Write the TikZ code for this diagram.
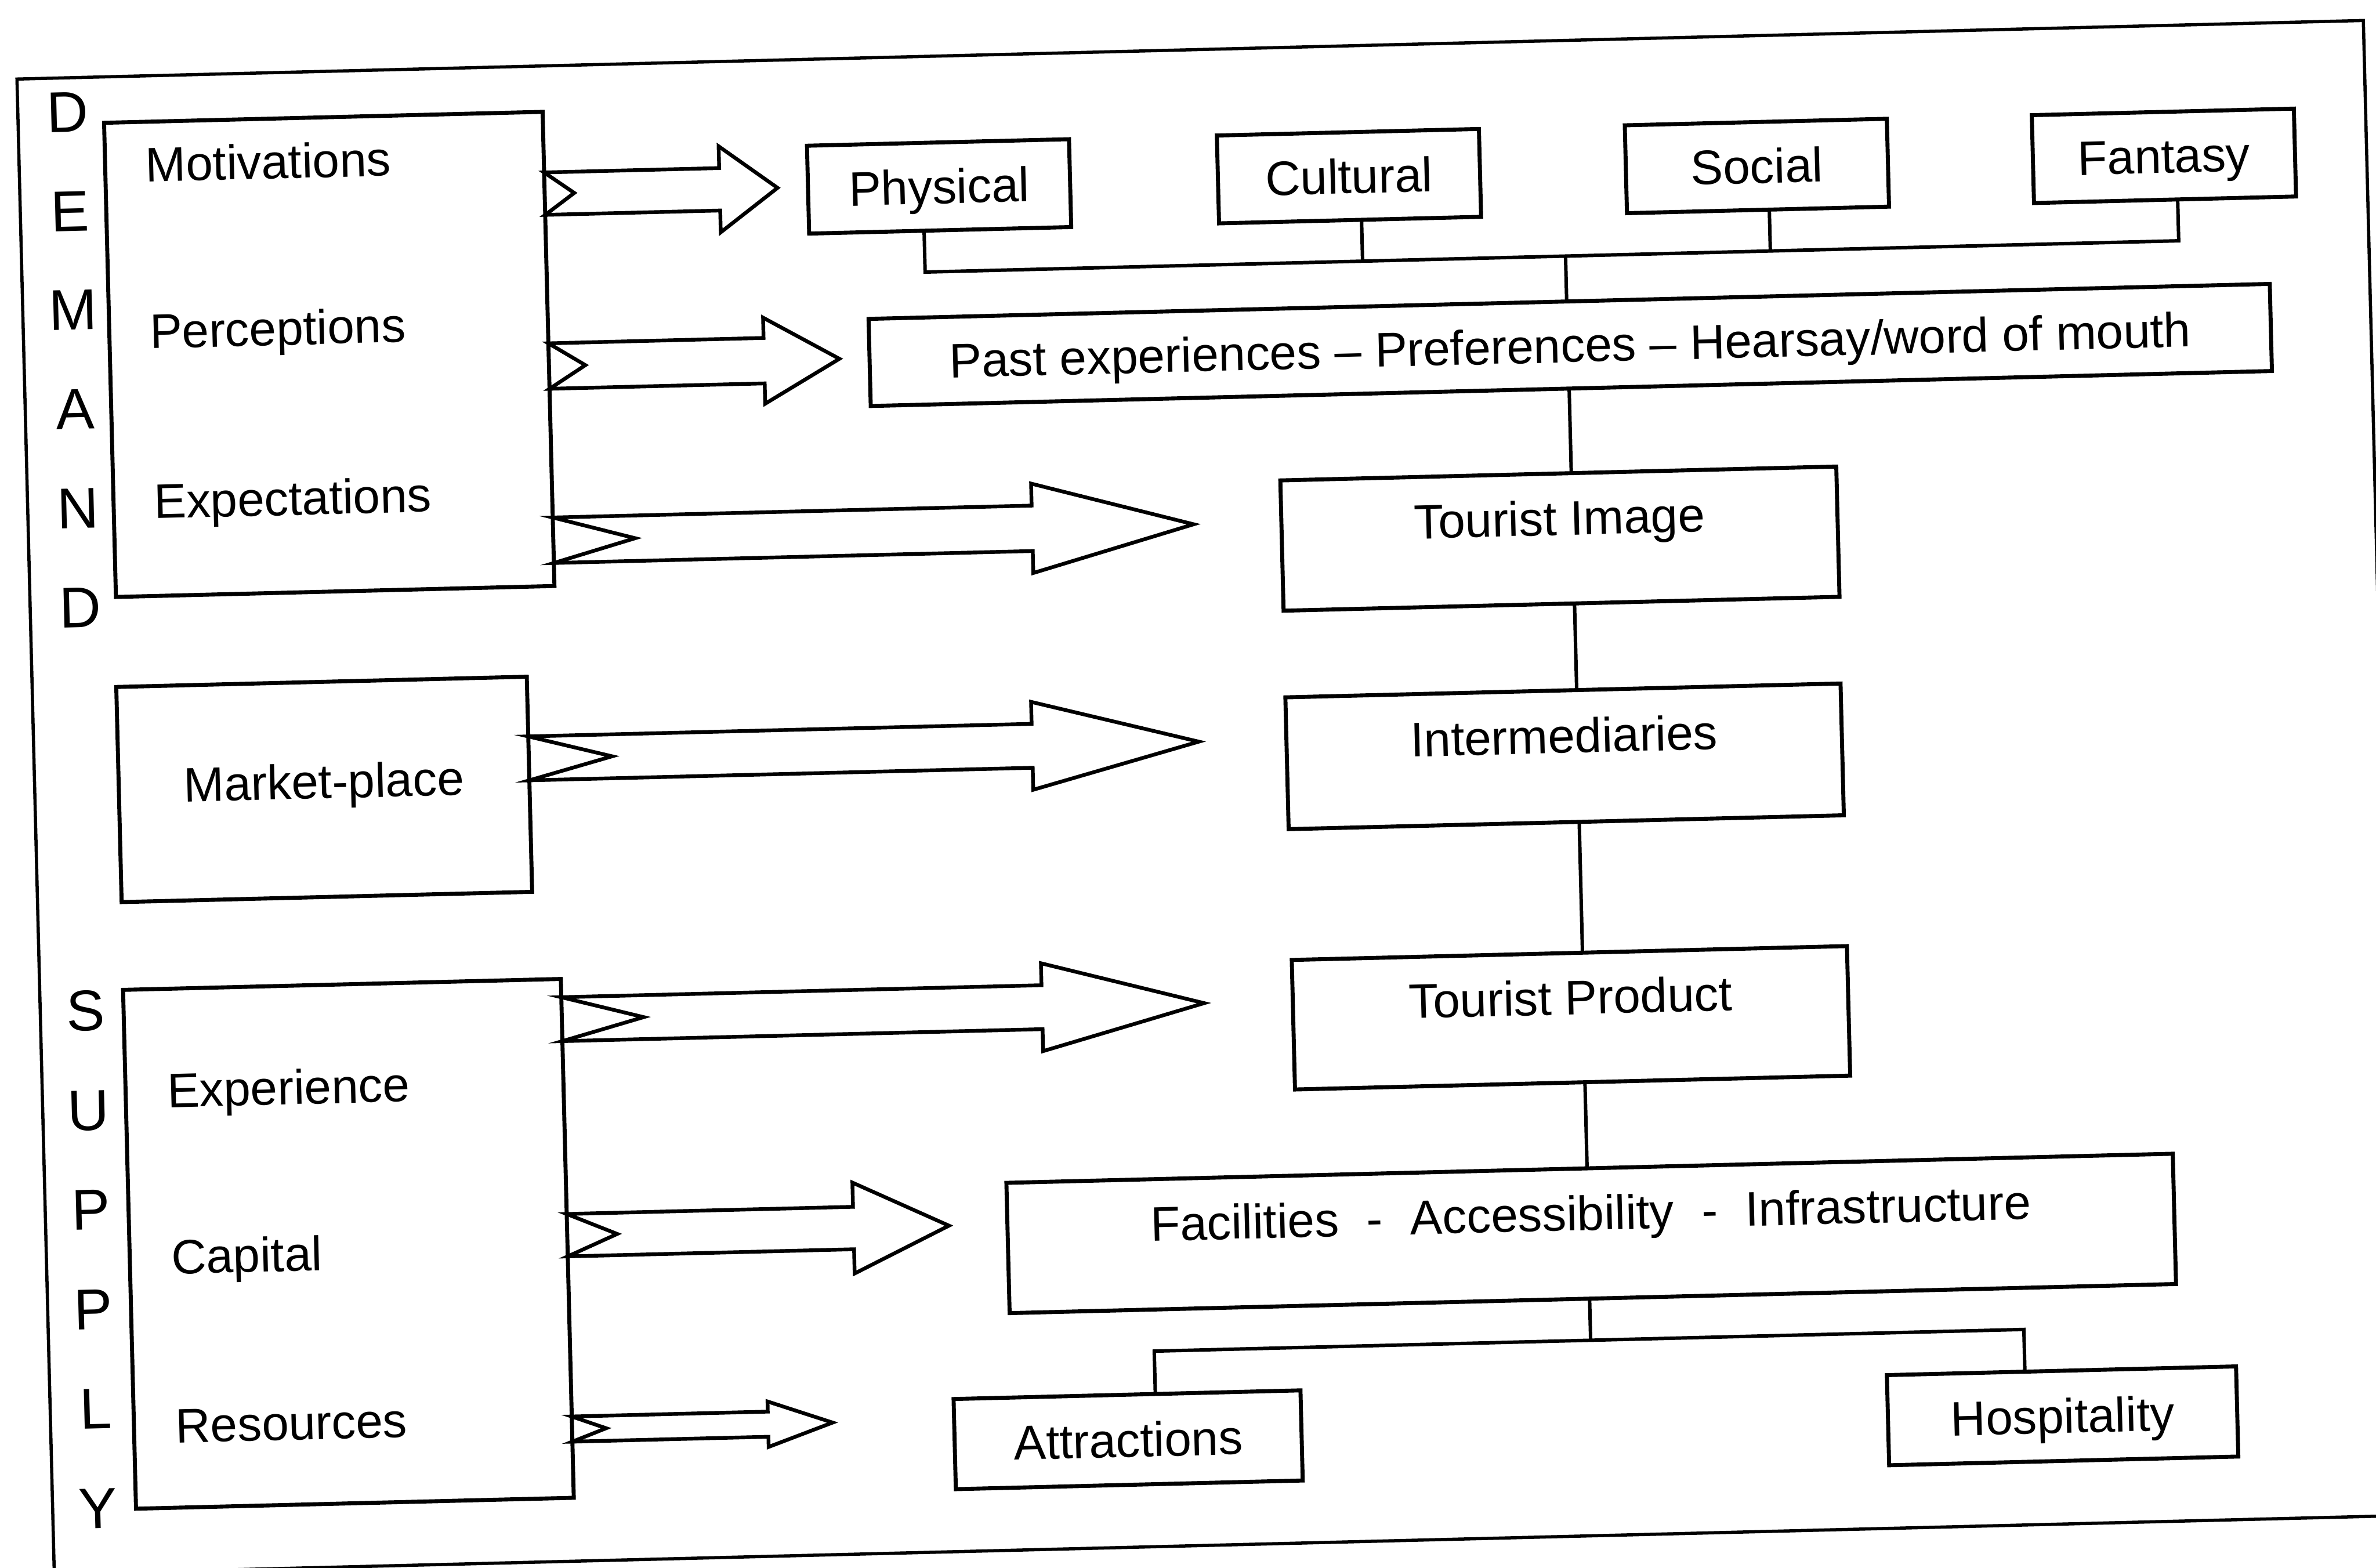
\documentclass[tikz,border=0pt]{standalone}
\usepackage{fontspec}
\setmainfont{Liberation Sans}

% hollow block arrow with a notched tail:
% #1 tail x, #2 axis y, #3 notch depth, #4 shaft half-height,
% #5 head base x, #6 head half-height, #7 tip x
\newcommand\blockarrow[7]{%
  \draw[arrowline]
    (#1,#2-#4) -- (#5,#2-#4) -- (#5,#2-#6) -- (#7,#2) --
    (#5,#2+#6) -- (#5,#2+#4) -- (#1,#2+#4) -- (#1+#3,#2) -- cycle;}

\begin{document}
\begin{tikzpicture}[x=0.2mm, y=-0.2mm,
  every node/.style={transform shape, inner sep=0pt, outer sep=0pt},
  lw/.style={line width=1.5pt},
  arrowline/.style={line width=1.4pt, line join=miter},
  txt/.style={font=\fontsize{18.2pt}{21pt}\selectfont},
  letter/.style={font=\fontsize{21.6pt}{24pt}\selectfont, text height=15.5pt, text depth=0pt},
  box/.style={draw, lw, txt, align=center},
  smallbox/.style={box, text height=13pt, text depth=0pt},
  bigbox/.style={box, text height=9.1pt, text depth=11.6pt},
  midbox/.style={box, text height=13pt, text depth=6.2pt},
  groupbox/.style={draw, lw},
  item/.style={txt, anchor=base west},
  link/.style={line width=1.3pt}
]
\useasboundingbox (0,0) rectangle (1568,1034.6);
\fill[white] (0,0) rectangle (1568,1034.6);
\clip (0,0) rectangle (1568,1034.6);

\begin{scope}[rotate around={1.43:(784,517)}]

% outer frame
\draw[line width=1.2pt] (23,33) -- (1572,33) -- (1572,1020) -- (23,1020) -- cycle;

% side captions
\foreach \c [count=\i from 0] in {D,E,M,A,N,D}
  \node[letter] (dem\i) at (56,55.1+65.4*\i) {\c};
\foreach \c [count=\i from 0] in {S,U,P,P,L,Y}
  \node[letter] (sup\i) at (53,648.3+65.7*\i) {\c};

% demand, market and supply groups
\node[groupbox, minimum width=57.9mm, minimum height=62.6mm] (demand) at (224.5,219.8) {};
\node[item] (mot) at (106.5,102.9) {Motivations};
\node[item] (per) at (106.5,212.9) {Perceptions};
\node[item] (exp) at (106.5,325.2) {Expectations};

\node[midbox, minimum width=54.2mm, minimum height=28.4mm] (market) at (214,506.7) {Market-place};

\node[groupbox, minimum width=57.8mm, minimum height=68.5mm] (supply) at (222.5,806.9) {};
\node[item] (xpe) at (105.5,714) {Experience};
\node[item] (cap) at (105.5,824) {Capital};
\node[item] (res) at (105.5,935.3) {Resources};

% motivation types
\node[smallbox, minimum width=34.6mm, minimum height=11.6mm] (phys) at (629.6,119) {Physical};
\node[smallbox, minimum width=34.6mm, minimum height=11.6mm] (cult) at (900.2,119) {Cultural};
\node[smallbox, minimum width=34.6mm, minimum height=11.6mm] (soc)  at (1169.5,119) {Social};
\node[smallbox, minimum width=34.6mm, minimum height=11.6mm] (fan)  at (1438.2,119) {Fantasy};

% central chain
\node[smallbox, minimum width=185mm, minimum height=11.5mm] (past) at (1043.4,234)
  {Past experiences -- Preferences -- Hearsay/word of mouth};
\node[bigbox, minimum width=73.4mm, minimum height=17.2mm] (image) at (1033.4,361.6) {Tourist Image};
\node[bigbox, minimum width=73.3mm, minimum height=17.4mm] (inter) at (1032.9,505.3) {Intermediaries};
\node[bigbox, minimum width=73.3mm, minimum height=17.1mm] (prod)  at (1032.8,677.9) {Tourist Product};
\node[bigbox, minimum width=154mm, minimum height=17.2mm] (fac) at (1042.6,820.5)
  {Facilities\hspace{0.57em}-\hspace{0.57em}Accessibility\hspace{0.57em}-\hspace{0.57em}Infrastructure};
\node[smallbox, minimum width=45.8mm, minimum height=11.9mm] (attr) at (733.7,949) {Attractions};
\node[smallbox, minimum width=46.1mm, minimum height=11.9mm] (hosp) at (1350.6,948.6) {Hospitality};

% tree connectors
\coordinate (busL) at (619,175.3);
\coordinate (busC) at (907.8,175.3);
\coordinate (busS) at (1177,175.3);
\coordinate (busR) at (1446.6,175.3);
\coordinate (busM) at (1041.8,175.3);
\draw[link] (phys.south -| busL) -- (busL) -- (busR) -- (fan.south -| busR);
\draw[link] (cult.south -| busC) -- (busC);
\draw[link] (soc.south -| busS) -- (busS);
\draw[link] (busM) -- (past.north -| busM);

\coordinate (s1) at (1042,290);
\coordinate (s2) at (1042,434);
\coordinate (s3) at (1041.5,592);
\coordinate (s4) at (1041,750);
\draw[link] (past.south -| s1) -- (image.north -| s1);
\draw[link] (image.south -| s2) -- (inter.north -| s2);
\draw[link] (inter.south -| s3) -- (prod.north -| s3);
\draw[link] (prod.south -| s4) -- (fac.north -| s4);

\coordinate (botL) at (752.4,891);
\coordinate (botM) at (1040.5,891);
\coordinate (botR) at (1326.5,891);
\draw[link] (fac.south -| botM) -- (botM);
\draw[link] (attr.north -| botL) -- (botL) -- (botR) -- (hosp.north -| botR);

% block arrows from the groups to the chain
\blockarrow{369.3}{117.3}{19.5}{14}{484.8}{28.4}{523}
\blockarrow{369.3}{231.1}{24}{15}{511.3}{28.4}{561}
\blockarrow{369.3}{346.1}{54}{15}{685.4}{29.5}{792}
\blockarrow{349.5}{489.6}{55}{14.5}{681.8}{29}{791.8}
\blockarrow{367}{662.2}{54}{14.5}{684}{29}{791}
\blockarrow{367}{804.8}{33}{14}{556}{30}{619}
\blockarrow{367}{932.8}{22.5}{8.3}{496.4}{15}{539}

\end{scope}
\end{tikzpicture}
\end{document}
